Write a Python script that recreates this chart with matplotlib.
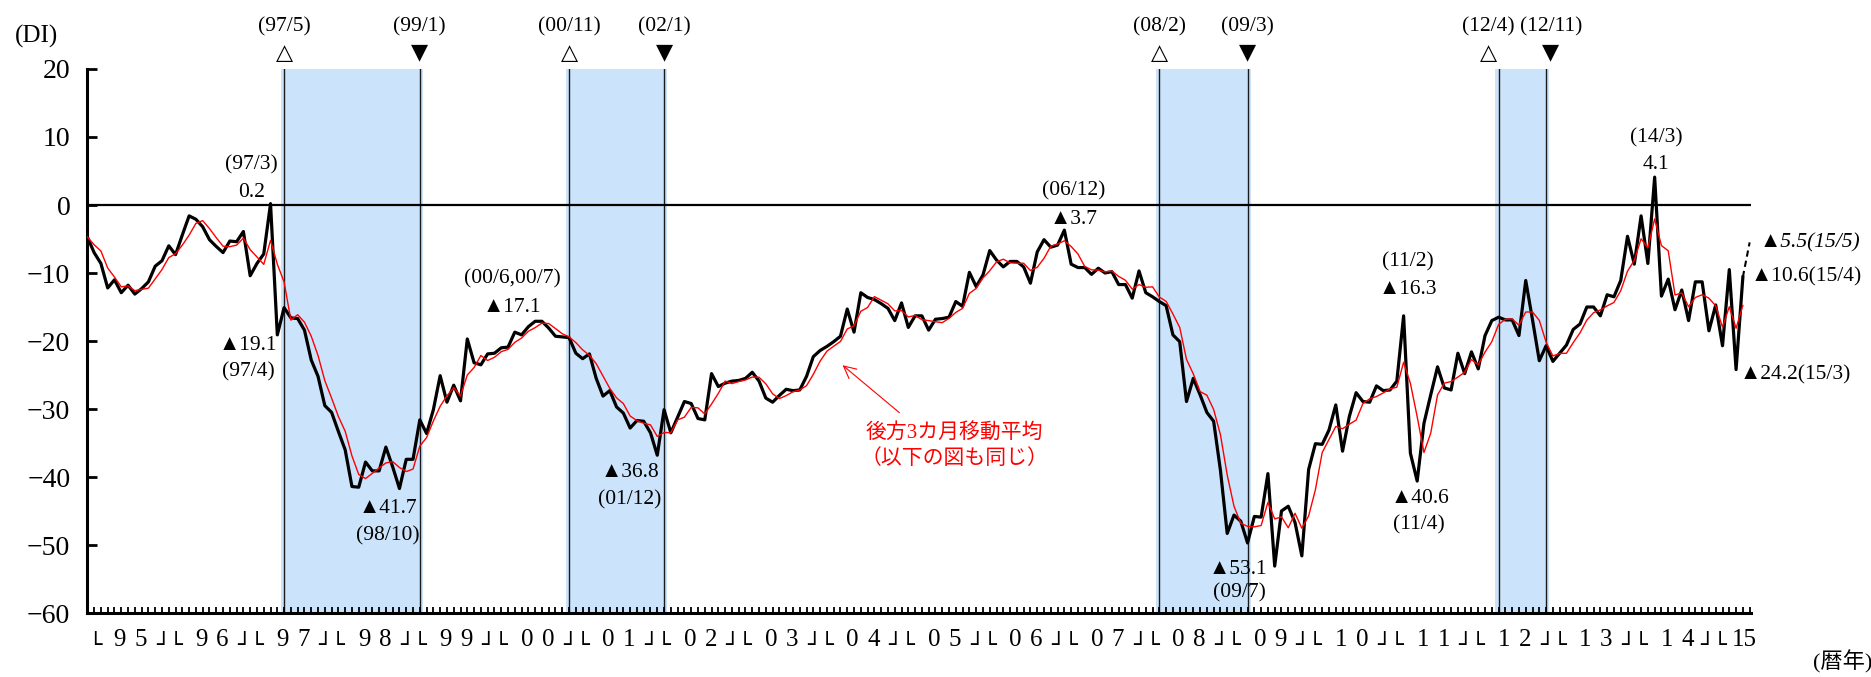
import numpy as np
import pandas as pd
import matplotlib
matplotlib.use('Agg')
import matplotlib.pyplot as plt
from matplotlib.transforms import blended_transform_factory

plt.rcParams['font.family'] = ['Liberation Serif', 'DejaVu Sans', 'Noto Sans CJK JP']

# monthly DI from 1994/12 to 2015/4 (month index 0 = 1995/1)
di = [
    -4.7,                                                                     # 94/12
    -7.0, -8.6, -12.2, -11.0, -12.9, -11.8, -13.1, -12.3, -11.3, -9.0, -8.2, -6.0,   # 95
    -7.3, -4.4, -1.6, -2.1, -3.2, -5.1, -6.1, -7.0, -5.3, -5.4, -3.9, -10.4,         # 96
    -8.6, -7.2, 0.2, -19.1, -15.1, -16.6, -16.7, -18.4, -22.8, -25.2, -29.5, -30.5,  # 97
    -33.3, -36.0, -41.4, -41.5, -37.8, -39.1, -39.1, -35.6, -38.5, -41.7, -37.4, -37.4,  # 98
    -31.6, -33.6, -30.1, -25.1, -29.0, -26.5, -28.8, -19.7, -23.2, -23.5, -21.9, -21.8,  # 99
    -21.0, -20.9, -18.7, -19.1, -17.9, -17.1, -17.1, -18.1, -19.3, -19.4, -19.5, -21.8,  # 00
    -22.6, -21.9, -25.5, -28.1, -27.3, -29.7, -30.6, -32.8, -31.7, -31.8, -33.5, -36.8,  # 01
    -30.1, -33.5, -31.2, -28.9, -29.2, -31.4, -31.6, -24.8, -26.7, -26.2, -25.9, -25.8,  # 02
    -25.5, -24.6, -25.9, -28.4, -29.0, -28.0, -27.1, -27.3, -27.2, -25.2, -22.3, -21.4,  # 03
    -20.8, -20.1, -19.3, -15.3, -18.7, -12.9, -13.6, -13.9, -14.5, -15.2, -17.0, -14.4,  # 04
    -18.0, -16.3, -16.3, -18.4, -16.8, -16.7, -16.5, -14.2, -14.9, -9.9, -12.0, -10.3,   # 05
    -6.7, -8.1, -9.1, -8.3, -8.3, -9.1, -11.5, -6.9, -5.1, -6.2, -5.9, -3.7,             # 06
    -8.7, -9.2, -9.2, -10.2, -9.3, -10.0, -9.8, -11.7, -11.7, -13.7, -9.7, -12.9,        # 07
    -13.5, -14.2, -14.8, -19.1, -20.1, -28.9, -25.5, -27.9, -30.5, -31.8, -39.0, -48.3,  # 08
    -45.6, -46.5, -49.7, -45.8, -45.9, -39.5, -53.1, -45.0, -44.3, -46.7, -51.6, -38.9,  # 09
    -35.1, -35.2, -33.1, -29.4, -36.2, -31.1, -27.6, -28.9, -29.0, -26.6, -27.3, -27.2,  # 10
    -25.9, -16.3, -36.5, -40.6, -32.1, -27.9, -23.8, -26.9, -27.2, -21.8, -24.8, -21.6,  # 11
    -24.1, -19.2, -17.0, -16.5, -16.9, -16.9, -19.2, -11.1, -16.9, -22.9, -20.7, -23.0,  # 12
    -21.8, -20.6, -18.3, -17.5, -15.0, -15.0, -16.3, -13.2, -13.5, -11.1, -4.6, -8.7,    # 13
    -1.6, -8.6, 4.1, -13.4, -10.9, -15.4, -12.5, -17.0, -11.3, -11.3, -18.5, -14.7,      # 14
    -20.7, -9.5, -24.2, -10.6,                                                           # 15
]
months = np.arange(-1, len(di) - 1)
di_ma = pd.Series(di).rolling(3, min_periods=1).mean()   # 後方3カ月移動平均
may_2015 = -5.5

# business-cycle peaks / troughs (month index)
peaks = [28, 70, 157, 207]
troughs = [48, 84, 170, 214]
peak_labels = ['(97/5)', '(00/11)', '(08/2)', '(12/4)']
trough_labels = ['(99/1)', '(02/1)', '(09/3)', '(12/11)']
years = ['95', '96', '97', '98', '99', '00', '01', '02', '03', '04',
         '05', '06', '07', '08', '09', '10', '11', '12', '13', '14']

fig = plt.figure(figsize=(18.71, 6.77), dpi=100)
ax = fig.add_axes([87 / 1871, 1 - 613 / 677, (1751 - 87) / 1871, 544 / 677])

for p, t in zip(peaks, troughs):
    ax.axvspan(p - 0.5, t + 0.5, color='#cce4fb', lw=0, zorder=0)
    ax.axvline(p, color='#1a1a1a', lw=1.0, zorder=1)
    ax.axvline(t, color='#1a1a1a', lw=1.0, zorder=1)

ax.axhline(0, color='black', lw=1.6, zorder=3)
ax.plot(months, di, color='black', lw=2.3, zorder=5)
ax.plot(months, di_ma, color='red', lw=1.0, zorder=6)
ax.plot([months[-1], months[-1] + 1], [di[-1], may_2015], color='black', lw=1.5,
        ls=(0, (3, 2)), zorder=5)

ax.set_xlim(-1.05, 244.2)
ax.set_ylim(-60, 20)
ax.set_yticks(range(-60, 21, 10))
ax.set_xticks(np.arange(-1, 245))
ax.spines['top'].set_visible(False)
ax.spines['right'].set_visible(False)
ax.spines['left'].set_linewidth(2.2)
ax.spines['bottom'].set_linewidth(2.2)
ax.tick_params(axis='y', direction='in', length=7, width=2, labelsize=20, pad=12)
ax.tick_params(axis='x', direction='in', length=4, width=1.3, labelbottom=False)

# top markers
fs = 15.5
for p, lab in zip(peaks, peak_labels):
    x = p - 1.5 if lab == '(12/4)' else p
    ax.text(x, 26.2, lab, ha='center', va='center', fontsize=fs)
    ax.text(x, 22.4, '△', ha='center', va='center', fontsize=16, family='DejaVu Sans')
for t, lab in zip(troughs, trough_labels):
    x = t + 0.7 if lab == '(12/11)' else t
    ax.text(x, 26.2, lab, ha='center', va='center', fontsize=fs)
    ax.text(x, 22.4, '▼', ha='center', va='center', fontsize=16, family='DejaVu Sans')

# value annotations
notes = [
    ('(97/3)', 23.2, 5.9), ('0.2', 23.2, 1.8),
    ('▲19.1', 22.7, -20.6), ('(97/4)', 22.7, -24.6),
    ('▲41.7', 43.3, -44.7), ('(98/10)', 43.3, -48.7),
    ('(00/6,00/7)', 61.6, -10.9), ('▲17.1', 61.6, -15.1),
    ('▲36.8', 79.0, -39.4), ('(01/12)', 79.0, -43.4),
    ('(06/12)', 144.4, 2.1), ('▲3.7', 144.4, -2.1),
    ('▲53.1', 168.6, -53.6), ('(09/7)', 168.8, -57.0),
    ('(11/2)', 193.7, -8.3), ('▲16.3', 193.7, -12.4),
    ('▲40.6', 195.4, -43.1), ('(11/4)', 195.3, -47.0),
    ('(14/3)', 230.2, 9.9), ('4.1', 230.2, 6.0),
]
for s, x, y in notes:
    ax.text(x, y, s, ha='center', va='center', fontsize=fs)

ax.text(245.5, -5.6, '▲5.5(15/5)', ha='left', va='center', fontsize=fs, style='italic')
ax.text(244.2, -10.5, '▲10.6(15/4)', ha='left', va='center', fontsize=fs)
ax.text(242.5, -25.0, '▲24.2(15/3)', ha='left', va='center', fontsize=fs)

# moving-average callout
ax.annotate('', xy=(110, -23.3), xytext=(119, -30.8),
            arrowprops=dict(arrowstyle='->', color='red', lw=0.8, mutation_scale=22))
ax.text(126.8, -33.5, '後方3カ月移動平均', ha='center', va='center', fontsize=15,
        color='red', family=['Liberation Serif', 'Noto Sans CJK JP'])
ax.text(126.8, -37.2, '（以下の図も同じ）', ha='center', va='center', fontsize=15,
        color='red', family='Noto Sans CJK JP')

# year labels under the axis
tr = blended_transform_factory(ax.transData, ax.transAxes)
yl = -0.049
yb = -0.0607
bk = dict(ha='center', va='center', fontsize=16, family='DejaVu Sans', transform=tr)
ax.text(0.1, yb, '└', **bk)
for k, yr in enumerate(years):
    b = 12 * k
    ax.text(b + 3.8, yl, yr[0], ha='center', va='center', fontsize=18, transform=tr)
    ax.text(b + 6.9, yl, yr[1], ha='center', va='center', fontsize=18, transform=tr)
    ax.text(b + (11.05 if k < 19 else 10.7), yb, '┘└', **bk)
ax.text(243.2, yl, '15', ha='center', va='center', fontsize=18, transform=tr)

fig.text(36 / 1871, 1 - 36 / 677, '(DI)', ha='center', va='center', fontsize=18)
fig.text(1813 / 1871, 1 - 662 / 677, '(暦年)', ha='left', va='center', fontsize=16)

fig.savefig('out.png', dpi=100)
